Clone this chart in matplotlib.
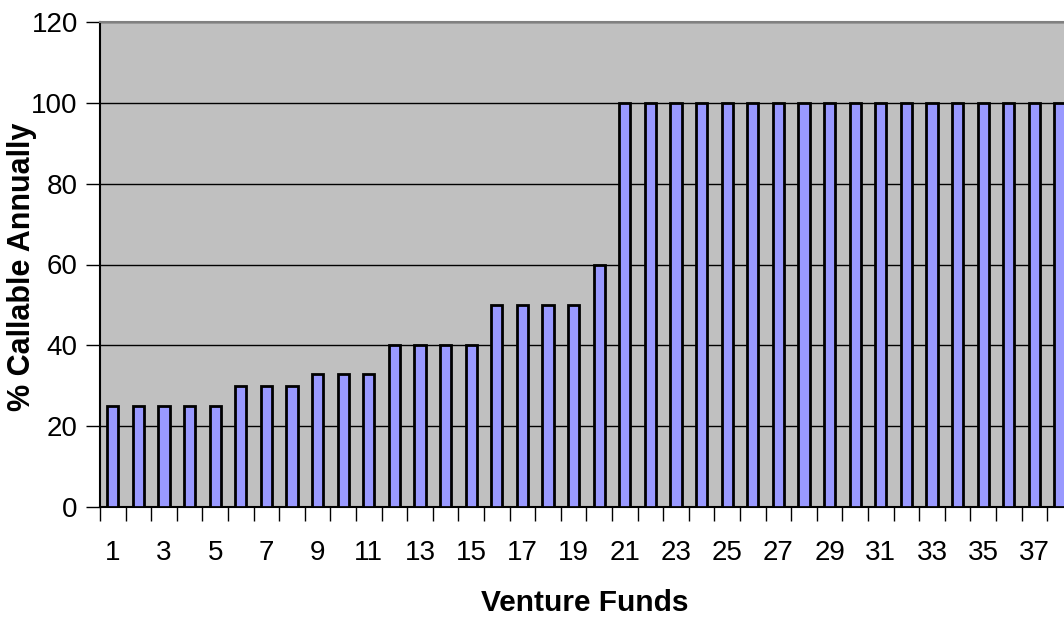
import matplotlib
matplotlib.use("Agg")
import matplotlib.pyplot as plt
from matplotlib.ticker import FixedLocator

funds = list(range(1, 39))
callable_pct = [25, 25, 25, 25, 25,
                30, 30, 30,
                33, 33, 33,
                40, 40, 40, 40,
                50, 50, 50, 50,
                60] + [100] * 18
y_ticks = [0, 20, 40, 60, 80, 100, 120]
x_labels = [str(f) if f % 2 == 1 else "" for f in funds]

plt.rcParams['font.family'] = ['Liberation Sans', 'DejaVu Sans']

fig = plt.figure(figsize=(10.64, 6.18), dpi=100)
ax = fig.add_axes([100 / 1064, (618 - 507) / 618, 1 - 100 / 1064, (507 - 22) / 618])
ax.set_facecolor('#C0C0C0')

ax.bar(funds, callable_pct, width=0.43, color='#9999FF', edgecolor='black',
       linewidth=2.0, zorder=3)

ax.set_ylim(0, 120)
ax.set_xlim(0.5, 0.5 + (1064 - 100) / 25.6)
ax.set_yticks(y_ticks)
ax.yaxis.grid(True, color='black', linewidth=1.0, zorder=1)
ax.set_axisbelow(True)

ax.set_xticks(funds)
ax.set_xticklabels(x_labels)
ax.xaxis.set_minor_locator(FixedLocator([f + 0.5 for f in [0] + funds]))
ax.tick_params(axis='x', which='major', length=0, pad=24, labelsize=20)
ax.tick_params(axis='x', which='minor', length=10, width=1, color='black')
ax.tick_params(axis='y', which='major', length=10, width=1, labelsize=20, pad=6)

ax.spines['right'].set_visible(False)
ax.spines['top'].set_color('#808080')
ax.spines['top'].set_linewidth(1.5)
ax.spines['left'].set_linewidth(1.5)
ax.spines['bottom'].set_linewidth(1.5)

fig.text(585 / 1064, 1 - 603 / 618, 'Venture Funds',
         ha='center', va='center', fontsize=21.5, fontweight='bold')
fig.text(22 / 1064, 1 - 267 / 618, '% Callable Annually', rotation=90,
         ha='center', va='center', fontsize=22, fontweight='bold')

fig.savefig('out.png', dpi=100)
